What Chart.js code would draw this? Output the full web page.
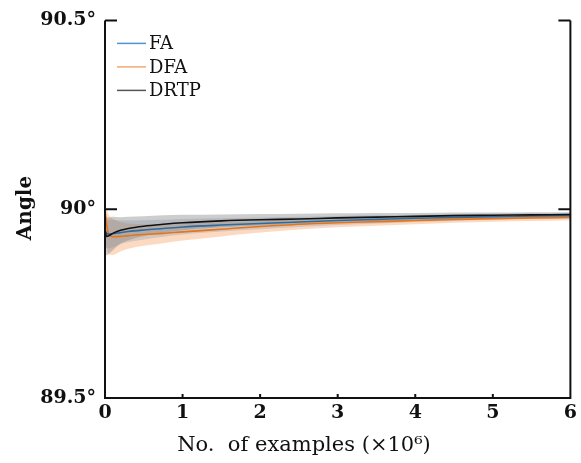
<!DOCTYPE html>
<html>
<head>
<meta charset="utf-8">
<script src="https://cdn.jsdelivr.net/npm/chart.js@4"></script>
<style>
  body { margin: 0; background: #fff; }
  #wrap { width: 581px; height: 463px; }
</style>
</head>
<body>
<div id="wrap"><canvas id="angleChart" width="581" height="463"></canvas></div>
<script>
// training examples (x10^6) at which the angle was sampled
const xs = [0, 0.02, 0.05, 0.1, 0.2, 0.3, 0.5, 0.75, 1, 1.5, 2, 2.5, 3, 3.5, 4, 4.5, 5, 5.5, 6];

// mean angle per method
const faMean   = [89.945, 89.936, 89.934, 89.935, 89.938, 89.941, 89.945, 89.949, 89.953, 89.958, 89.962, 89.966, 89.970, 89.973, 89.976, 89.978, 89.980, 89.982, 89.983];
const dfaMean  = [89.995, 89.962, 89.933, 89.927, 89.928, 89.930, 89.933, 89.936, 89.940, 89.947, 89.954, 89.960, 89.964, 89.967, 89.970, 89.973, 89.975, 89.977, 89.978];
const drtpMean = [89.945, 89.928, 89.930, 89.936, 89.944, 89.949, 89.955, 89.960, 89.964, 89.969, 89.972, 89.974, 89.977, 89.979, 89.981, 89.983, 89.984, 89.985, 89.986];

// spread across runs (upper / lower envelope)
const faHi   = [89.985, 89.975, 89.972, 89.972, 89.970, 89.970, 89.971, 89.972, 89.974, 89.976, 89.978, 89.980, 89.982, 89.984, 89.985, 89.987, 89.988, 89.989, 89.990];
const faLo   = [89.905, 89.897, 89.896, 89.899, 89.907, 89.913, 89.920, 89.927, 89.933, 89.941, 89.947, 89.953, 89.958, 89.962, 89.966, 89.969, 89.972, 89.974, 89.976];
const dfaHi  = [90.010, 90.000, 89.985, 89.975, 89.966, 89.962, 89.960, 89.961, 89.963, 89.966, 89.969, 89.972, 89.975, 89.977, 89.979, 89.981, 89.983, 89.984, 89.985];
const dfaLo  = [89.930, 89.900, 89.880, 89.879, 89.888, 89.895, 89.903, 89.910, 89.917, 89.928, 89.938, 89.946, 89.952, 89.956, 89.960, 89.964, 89.967, 89.969, 89.971];
const drtpHi = [89.995, 89.978, 89.978, 89.980, 89.979, 89.980, 89.981, 89.984, 89.985, 89.986, 89.987, 89.988, 89.989, 89.990, 89.990, 89.991, 89.991, 89.992, 89.992];
const drtpLo = [89.895, 89.878, 89.882, 89.891, 89.909, 89.918, 89.929, 89.937, 89.944, 89.952, 89.957, 89.961, 89.965, 89.968, 89.971, 89.974, 89.976, 89.977, 89.979];

const yTicks = [89.5, 90, 90.5];
const xTicks = [0, 1, 2, 3, 4, 5, 6];
const methods = ['FA', 'DFA', 'DRTP'];
const legendColors = ['#4f93d2', '#f5a872', '#555555'];

const pts = arr => arr.map((v, i) => ({ x: xs[i], y: v }));

function line(label, data, color, order) {
    return {
        label: label, data: pts(data), borderColor: color, borderWidth: 1.6,
        pointRadius: 0, fill: false, cubicInterpolationMode: 'monotone', order: order
    };
}

function band(data, fillColor, order, fillTo) {
    return {
        label: '', data: pts(data), borderColor: 'transparent', borderWidth: 0,
        backgroundColor: fillColor, pointRadius: 0, fill: fillTo,
        cubicInterpolationMode: 'monotone', order: order
    };
}

// axes box, inward ticks, legend and axis titles
const framePlugin = {
    id: 'frame',
    afterDraw(chart) {
        const { ctx, chartArea: a, scales: { x, y } } = chart;
        ctx.save();
        ctx.strokeStyle = '#111';
        ctx.lineWidth = 2;
        ctx.beginPath();
        ctx.moveTo(a.left, a.top);
        ctx.lineTo(a.left, a.bottom);
        ctx.lineTo(a.right, a.bottom);
        ctx.lineTo(a.right, a.top);
        yTicks.forEach(v => {
            const py = y.getPixelForValue(v);
            ctx.moveTo(a.left, py); ctx.lineTo(a.left + 12, py);
            ctx.moveTo(a.right, py); ctx.lineTo(a.right - 12, py);
        });
        xTicks.forEach(v => {
            const px = x.getPixelForValue(v);
            ctx.moveTo(px, a.bottom); ctx.lineTo(px, a.bottom - 4);
        });
        ctx.stroke();

        // legend
        ctx.font = '18px "DejaVu Serif"';
        ctx.textBaseline = 'middle';
        ctx.fillStyle = '#111';
        methods.forEach((m, i) => {
            const ly = a.top + 23 + i * 23.5;
            ctx.strokeStyle = legendColors[i];
            ctx.lineWidth = 1.5;
            ctx.beginPath();
            ctx.moveTo(a.left + 12, ly); ctx.lineTo(a.left + 41, ly);
            ctx.stroke();
            ctx.fillText(m, a.left + 44, ly + 1);
        });

        // axis titles
        ctx.font = '21px "DejaVu Serif"';
        ctx.textAlign = 'center';
        ctx.textBaseline = 'alphabetic';
        ctx.fillText('No.  of examples (\u00d710\u2076)', 304, 451);

        ctx.save();
        ctx.translate(31, 208);
        ctx.rotate(-Math.PI / 2);
        ctx.font = 'bold 20px "DejaVu Serif"';
        ctx.fillText('Angle', 0, 0);
        ctx.restore();
        ctx.restore();
    }
};

new Chart(document.getElementById('angleChart'), {
    type: 'line',
    data: {
        datasets: [
            line('FA', faMean, '#2e6b9e', 1),
            line('DFA', dfaMean, '#e67418', 2),
            line('DRTP', drtpMean, '#111111', 0),
            band(faHi, 'rgba(90,130,170,0.25)', 4, '+1'),
            band(faLo, 'transparent', 4, false),
            band(dfaHi, 'rgba(245,150,80,0.35)', 5, '+1'),
            band(dfaLo, 'transparent', 5, false),
            band(drtpHi, 'rgba(130,130,130,0.4)', 3, '+1'),
            band(drtpLo, 'transparent', 3, false)
        ]
    },
    options: {
        responsive: false,
        animation: false,
        layout: { padding: { top: 20, right: 8, left: 0, bottom: 0 } },
        plugins: { legend: { display: false }, tooltip: { enabled: false } },
        scales: {
            x: {
                type: 'linear', min: 0, max: 6,
                grid: { display: false, drawTicks: false },
                border: { display: false },
                afterFit: s => { s.height = 65; },
                ticks: {
                    stepSize: 1, padding: 4, color: '#111',
                    font: { family: 'DejaVu Serif', weight: 'bold', size: 19 }
                }
            },
            y: {
                min: 89.5, max: 90.5,
                grid: { display: false, drawTicks: false },
                border: { display: false },
                afterFit: s => { s.width = 105; },
                afterBuildTicks: s => { s.ticks = yTicks.map(v => ({ value: v })); },
                ticks: {
                    padding: 9, color: '#111',
                    font: { family: 'DejaVu Serif', weight: 'bold', size: 19 },
                    callback: v => v + '\u00b0'
                }
            }
        }
    },
    plugins: [framePlugin]
});
</script>
</body>
</html>
